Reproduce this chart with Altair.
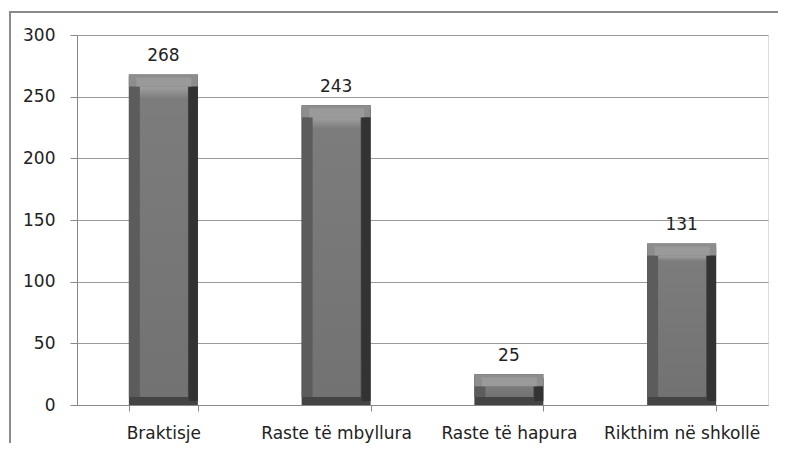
import altair as alt
import pandas as pd

categories = ["Braktisje", "Raste të mbyllura", "Raste të hapura", "Rikthim në shkollë"]
values = [268, 243, 25, 131]

df = pd.DataFrame({"cat": categories, "val": values})

FONT = "DejaVu Sans"
W, H = 691, 370

x_enc = alt.X("cat:N", sort=categories, title=None,
              scale=alt.Scale(paddingInner=0.6, paddingOuter=0.3),
              axis=alt.Axis(labelAngle=0, tickBand="extent", tickSize=6, tickColor="#888888",
                            domainColor="#888888", labelFont=FONT, labelFontSize=17,
                            labelColor="#222222", labelPadding=14, grid=False))
y_scale = alt.Scale(domain=[0, 300])
y_enc = alt.Y("val:Q", scale=y_scale, title=None,
              axis=alt.Axis(values=[0, 50, 100, 150, 200, 250, 300], tickSize=7, tickColor="#888888",
                            domainColor="#888888", gridColor="#9a9a9a", gridWidth=1,
                            labelFont=FONT, labelFontSize=17, labelColor="#222222",
                            labelPadding=15))

xs = alt.X("cat:N", sort=categories)
ys = alt.Y("val:Q", scale=y_scale)
base = alt.Chart(df)

outer = base.mark_bar(size=69, color="#444444").encode(x=x_enc, y=y_enc, y2=alt.datum(0))
right = base.mark_bar(size=9, xOffset=30, yOffset=4, y2Offset=-4, color="#333333").encode(
    x=xs, y=ys, y2=alt.datum(0))
left = base.mark_bar(size=59, xOffset=-5, yOffset=2, y2Offset=-8, color="#5c5c5c").encode(
    x=xs, y=ys, y2=alt.datum(0))
top = base.mark_bar(size=69, y2Offset=12, color="#8d8d8d").encode(
    x=xs, y=ys, y2=alt.Y2("val:Q"))
top_in = base.mark_bar(size=55, xOffset=0.5, yOffset=3, y2Offset=12, color="#9a9a9a").encode(
    x=xs, y=ys, y2=alt.Y2("val:Q"))
center = base.mark_bar(size=48, xOffset=0.5, yOffset=12, y2Offset=-8,
                       color=alt.Gradient(gradient="linear",
                                          stops=[alt.GradientStop(color="#a0a0a0", offset=0),
                                                 alt.GradientStop(color="#7c7c7c", offset=0.04),
                                                 alt.GradientStop(color="#727272", offset=1)],
                                          x1=0, x2=0, y1=0, y2=1)).encode(
    x=xs, y=ys, y2=alt.datum(0))
labels = base.mark_text(dy=-13, baseline="alphabetic", font=FONT, fontSize=17, color="#222222").encode(
    x=xs, y=ys, text="val:Q")

frame = alt.Chart(pd.DataFrame({"k": [0]})).mark_rect(
    fill=None, filled=False, stroke="#8a8a8a", strokeWidth=2).encode(
    x=alt.value(-67), x2=alt.value(760), y=alt.value(-23), y2=alt.value(480))

chart = alt.layer(outer, right, left, top, top_in, center, labels, frame).properties(
    width=W, height=H,
    autosize=alt.AutoSizeParams(type="none"),
    padding={"left": 69, "top": 27, "right": 10, "bottom": 38},
).configure_view(stroke=None).configure(background="white")

chart.save("out.html", embed_options={"renderer": "svg", "actions": False})
